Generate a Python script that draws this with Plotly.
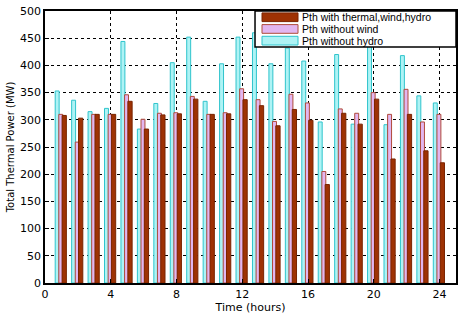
import plotly.graph_objects as go

hours = list(range(1, 25))
p_all = [308, 303, 310, 310, 334, 283, 309, 311, 338, 310, 311, 337,
         326, 289, 319, 299, 181, 312, 292, 338, 228, 310, 243, 221]
p_no_wind = [310, 259, 310, 310, 346, 301, 312, 313, 343, 310, 313, 357,
             337, 297, 347, 331, 205, 320, 312, 350, 310, 356, 296, 310]
p_no_hydro = [353, 336, 315, 321, 444, 283, 330, 405, 452, 334, 403, 452,
              460, 403, 432, 408, 296, 420, 292, 465, 291, 418, 344, 331]

names = ["Pth with thermal,wind,hydro", "Pth without wind", "Pth without hydro"]
fills = ["#9e3204", "#e2b6f0", "#aef3f5"]
edges = ["#7a2400", "#b04a3a", "#2fc4cc"]

fig = go.Figure()
fig.add_trace(go.Bar(x=hours, y=p_no_hydro, name=names[2], offset=-0.38, width=0.24,
                     marker=dict(color=fills[2], line=dict(color=edges[2], width=1))))
fig.add_trace(go.Bar(x=hours, y=p_no_wind, name=names[1], offset=-0.16, width=0.24,
                     marker=dict(color=fills[1], line=dict(color=edges[1], width=1))))
fig.add_trace(go.Bar(x=hours, y=p_all, name=names[0], offset=0.04, width=0.26,
                     marker=dict(color=fills[0], line=dict(color=edges[0], width=1))))

# custom compact legend (paper coordinates)
shapes = [dict(type="rect", xref="paper", yref="paper", x0=0.511, x1=1.0, y0=0.868, y1=1.0,
               fillcolor="white", line=dict(color="black", width=1.5), layer="above")]
annotations = []
rows = [0.977, 0.934, 0.891]
for i, (nm, fc, ec) in enumerate(zip(names, fills, edges)):
    yc = rows[i]
    shapes.append(dict(type="rect", xref="paper", yref="paper", x0=0.528, x1=0.6156,
                       y0=yc - 0.016, y1=yc + 0.016, fillcolor=fc,
                       line=dict(color=ec, width=1), layer="above"))
    annotations.append(dict(xref="paper", yref="paper", x=0.622, y=yc, text=nm,
                            showarrow=False, xanchor="left", yanchor="middle", borderpad=0,
                            font=dict(family="Liberation Sans, Arial, sans-serif", size=10.5, color="black")))

font = "DejaVu Sans, Liberation Sans, sans-serif"
fig.update_layout(
    width=464, height=316,
    margin=dict(l=45, r=8, t=5, b=30),
    barmode="overlay",
    plot_bgcolor="white", paper_bgcolor="white",
    font=dict(family=font, size=11, color="black"),
    showlegend=False,
    shapes=shapes, annotations=annotations,
    xaxis=dict(range=[0, 25], tickvals=[0, 4, 8, 12, 16, 20, 24],
               showgrid=True, gridcolor="black", griddash="dot", gridwidth=1,
               showline=True, linecolor="black", linewidth=1.5, mirror=True,
               ticks="inside", ticklen=4, tickcolor="black", zeroline=False,
               title=dict(text="Time (hours)", standoff=2, font=dict(size=11))),
    yaxis=dict(range=[0, 500], dtick=50,
               showgrid=True, gridcolor="black", griddash="dot", gridwidth=1,
               showline=True, linecolor="black", linewidth=1.5, mirror=True,
               ticks="inside", ticklen=4, tickcolor="black", zeroline=False,
               title=dict(text="Total Thermal Power (MW)", standoff=4, font=dict(size=10))),
)
fig.write_html("out.html")
